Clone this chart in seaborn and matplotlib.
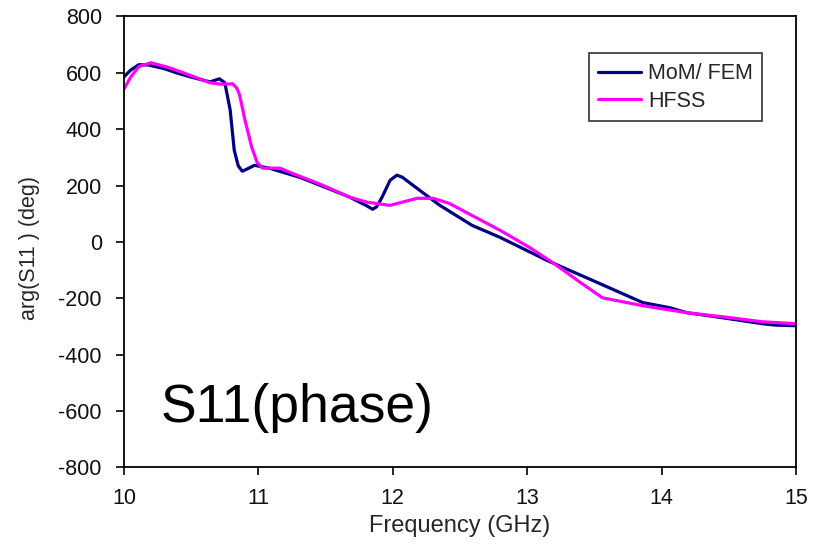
import matplotlib
matplotlib.use("Agg")
import matplotlib.pyplot as plt
import seaborn as sns
import pandas as pd

# Frequency sweep (GHz) and phase of S11 (degrees) for each solver
mom_freq = [10.00, 10.05, 10.11, 10.18, 10.30, 10.39, 10.50, 10.64, 10.71, 10.75,
            10.79, 10.82, 10.85, 10.88, 10.93, 10.97, 11.08, 11.31, 11.46, 11.68,
            11.80, 11.85, 11.88, 11.92, 11.98, 12.03, 12.07, 12.12, 12.35, 12.59,
            12.80, 13.15, 13.49, 13.86, 14.06, 14.19, 14.40, 14.75, 14.85, 15.00]
mom_phase = [586, 610, 629, 628, 615, 600, 585, 568, 579, 565,
             468, 326, 270, 251, 262, 272, 262, 229, 201, 159,
             130, 116, 125, 159, 219, 237, 230, 212, 130, 59,
             16, -66, -137, -215, -233, -251, -265, -290, -295, -297]

hfss_freq = [10.00, 10.05, 10.11, 10.20, 10.34, 10.50, 10.64, 10.72, 10.81, 10.84,
             10.86, 10.90, 10.95, 10.99, 11.03, 11.16, 11.25, 11.46, 11.68, 11.81,
             11.98, 12.10, 12.18, 12.30, 12.42, 12.59, 12.80, 13.02, 13.19, 13.40,
             13.56, 13.86, 14.19, 14.50, 14.75, 15.00]
hfss_phase = [543, 585, 622, 636, 618, 590, 565, 560, 561, 545,
              522, 433, 337, 283, 262, 262, 244, 205, 159, 141,
              130, 145, 155, 155, 137, 94, 41, -20, -73, -145,
              -198, -226, -251, -268, -283, -290]

series_names = ["MoM/ FEM", "HFSS"]
series_colors = ["#000080", "#FF00FF"]

df = pd.concat([
    pd.DataFrame({"freq": mom_freq, "phase": mom_phase, "solver": series_names[0]}),
    pd.DataFrame({"freq": hfss_freq, "phase": hfss_phase, "solver": series_names[1]}),
], ignore_index=True)

sns.set_style("white")
plt.rcParams["font.family"] = ["Liberation Sans", "DejaVu Sans"]
plt.rcParams["axes.unicode_minus"] = False

fig = plt.figure(figsize=(8.24, 5.59), dpi=100)
ax = fig.add_axes([0.1505, 0.1637, 0.8155, 0.8068])

sns.lineplot(data=df, x="freq", y="phase", hue="solver", hue_order=series_names,
             palette=series_colors, estimator=None, sort=False, linewidth=2.3, ax=ax)

ax.set_xlim(10, 15)
ax.set_ylim(-800, 800)
ax.set_xticks([10, 11, 12, 13, 14, 15])
ax.set_yticks(range(-800, 801, 200))

for side in ["left", "bottom", "right", "top"]:
    ax.spines[side].set_visible(True)
    ax.spines[side].set_color("black")
    ax.spines[side].set_linewidth(1.3)

ax.tick_params(axis="both", which="major", direction="out", length=6, width=1.2,
               labelsize=15.5, color="black", labelcolor="#111111")
ax.tick_params(axis="x", bottom=True, top=False, pad=9)
ax.tick_params(axis="y", left=True, right=False, pad=10)

ax.set_xlabel("Frequency (GHz)", fontsize=17, labelpad=4)
ax.set_ylabel("arg(S11 ) (deg)", fontsize=15.5)
ax.yaxis.set_label_coords(-0.125, 0.487)

ax.text(0.055, 0.1, "S11(phase)", transform=ax.transAxes, fontsize=38.5,
        ha="left", va="baseline", color="black")

leg = ax.legend(loc="upper right", bbox_to_anchor=(0.95, 0.918), fontsize=15.5,
                frameon=True, fancybox=False, edgecolor="black", handlelength=2.0,
                handletextpad=0.3, borderpad=0.45, labelspacing=0.3,
                borderaxespad=0.0)
leg.get_frame().set_linewidth(1.2)
leg.set_title(None)

fig.savefig("out.png", dpi=100, facecolor="white")
